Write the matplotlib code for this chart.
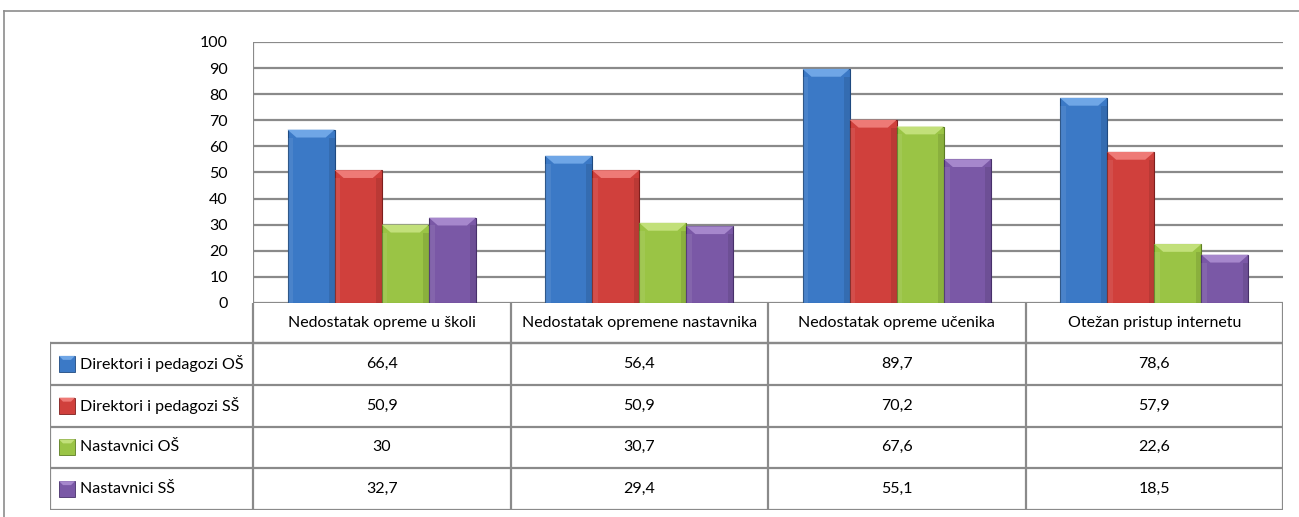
import matplotlib.pyplot as plt
from matplotlib.patches import Polygon, Rectangle
from matplotlib.lines import Line2D

categories = ['Nedostatak opreme u školi', 'Nedostatak opremene nastavnika',
              'Nedostatak opreme učenika', 'Otežan pristup internetu']
series_names = ['Direktori i pedagozi OŠ', 'Direktori i pedagozi SŠ',
                'Nastavnici OŠ', 'Nastavnici SŠ']
dir_os = [66.4, 56.4, 89.7, 78.6]
dir_ss = [50.9, 50.9, 70.2, 57.9]
nast_os = [30, 30.7, 67.6, 22.6]
nast_ss = [32.7, 29.4, 55.1, 18.5]
series = [dir_os, dir_ss, nast_os, nast_ss]
yticks = list(range(0, 101, 10))

colors = ['#3b79c6', '#d0403c', '#9ac445', '#7a58a6']
tops = ['#6fa6e6', '#ee7a76', '#c2e07a', '#a687cc']
edges = ['#1f4a80', '#7e1f1d', '#5c7d22', '#47306a']

plt.rcParams['font.family'] = ['Lato', 'DejaVu Sans']
fs = 11.5
W, H = 1299, 517
fig = plt.figure(figsize=(W / 100, H / 100), dpi=100)
grid_c = '#8a8a8a'

# outer chart border (cut at right/bottom like the original)
fig.add_artist(Line2D([4 / W, 4 / W], [0, 1 - 11 / H], color='#8c8c8c', lw=1.2))
fig.add_artist(Line2D([4 / W, 1], [1 - 11 / H, 1 - 11 / H], color='#8c8c8c', lw=1.2))

# plot area in pixels
px0, px1, py0, py1 = 253, 1283, 42, 303
ax = fig.add_axes([px0 / W, 1 - py1 / H, (px1 - px0) / W, (py1 - py0) / H])
ax.set_xlim(0, 4)
ax.set_ylim(0, 100)
for s in ax.spines.values():
    s.set_visible(False)
ax.set_xticks([])
ax.set_yticks(yticks)
ax.tick_params(axis='y', length=0, pad=18, labelsize=fs)
for yt in yticks:
    ax.axhline(yt, color=grid_c, lw=1.6, zorder=0)
ax.axvline(0, color=grid_c, lw=1.6, zorder=0)

bw = 0.183
bev_h = 3.0
bev_w = 0.035
for i, vals in enumerate(series):
    xs = [k + 0.5 + (i - 1.5) * bw for k in range(len(vals))]
    ax.bar(xs, vals, width=bw, color=colors[i], edgecolor=edges[i], lw=0.8, zorder=3)
    for x, v in zip(xs, vals):
        l, r = x - bw / 2, x + bw / 2
        ax.add_patch(Polygon([(l, v), (r, v), (r - bev_w, v - bev_h), (l + bev_w, v - bev_h)],
                             closed=True, facecolor=tops[i], edgecolor='none', zorder=4))
        ax.add_patch(Rectangle((l, 0), bw * 0.12, v - bev_h, facecolor='white', alpha=0.08,
                               edgecolor='none', zorder=4))
        ax.add_patch(Rectangle((r - bw * 0.12, 0), bw * 0.12, v - bev_h, facecolor='black', alpha=0.1,
                               edgecolor='none', zorder=4))

# data table below the chart
tx0, ty0, ty1 = 50, 303, 510
tab = fig.add_axes([tx0 / W, 1 - ty1 / H, (px1 - tx0) / W, (ty1 - ty0) / H])
tab.set_xlim(tx0, px1)
tab.set_ylim(ty1, ty0)
tab.axis('off')
head_h = 40
row_h = (ty1 - ty0 - head_h) / len(series)
col_w = (px1 - px0) / len(categories)
lk = dict(color=grid_c, lw=1.6)

tab.plot([px0, px1], [ty0 + head_h, ty0 + head_h], **lk)
tab.plot([tx0, tx0], [ty0 + head_h, ty1], **lk)
for r in range(len(series) + 1):
    y = ty0 + head_h + r * row_h
    tab.plot([tx0, px1], [y, y], **lk)
for c in range(len(categories) + 1):
    x = px0 + c * col_w
    tab.plot([x, x], [ty0, ty1], **lk)

for c, name in enumerate(categories):
    tab.text(px0 + (c + 0.5) * col_w, ty0 + head_h / 2, name, ha='center', va='center', fontsize=fs)

for r, (name, vals) in enumerate(zip(series_names, series)):
    yc = ty0 + head_h + (r + 0.5) * row_h
    tab.add_patch(Rectangle((59, yc - 8), 16, 16, facecolor=colors[r], edgecolor=edges[r], lw=0.6))
    tab.add_patch(Polygon([(59, yc - 8), (75, yc - 8), (71, yc - 4), (63, yc - 4)],
                          facecolor=tops[r], edgecolor='none'))
    tab.text(80, yc, name, ha='left', va='center', fontsize=fs)
    for c, v in enumerate(vals):
        tab.text(px0 + (c + 0.5) * col_w, yc, f'{v:g}'.replace('.', ','),
                 ha='center', va='center', fontsize=fs)

fig.savefig('out.png', dpi=100, facecolor='white')
